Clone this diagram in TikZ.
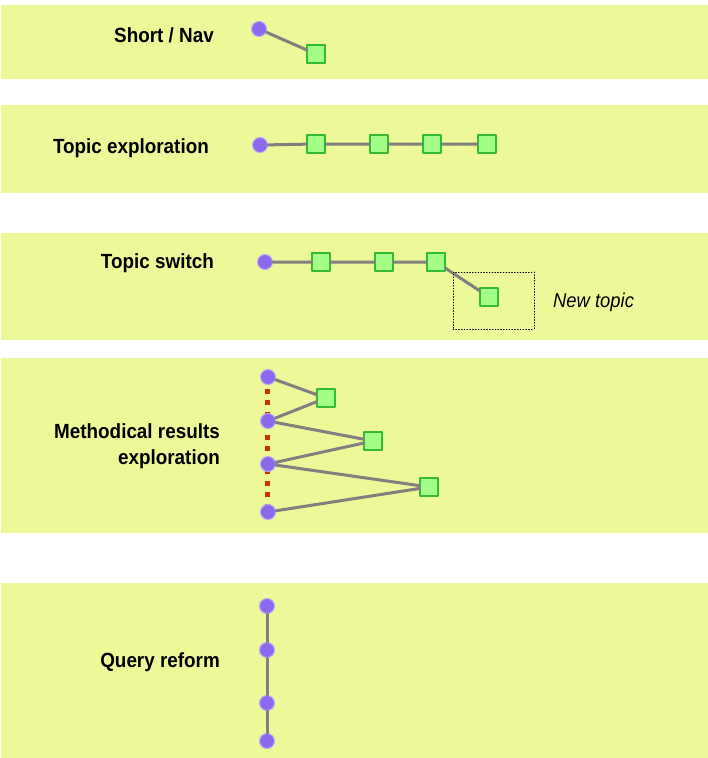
\documentclass[tikz,border=0pt]{standalone}
\usepackage{fontspec}
\newfontfamily\labfont{Liberation Sans}[FakeStretch=0.92]
\definecolor{band}{RGB}{237,248,153}
\definecolor{qfill}{RGB}{141,104,240}
\definecolor{qline}{RGB}{185,170,245}
\definecolor{dfill}{RGB}{164,255,136}
\definecolor{dline}{RGB}{51,187,51}
\definecolor{trail}{RGB}{204,51,0}
\tikzset{
	query/.style={circle, fill=qfill, draw=qline, line width=1pt, inner sep=0pt, minimum size=15pt},
	doc/.style={rectangle, fill=dfill, draw=dline, line width=1.3pt, inner sep=0pt, minimum size=18pt},
	hop/.style={draw=gray, line width=3pt},
	lab/.style={inner sep=0pt, align=right, font=\labfont\bfseries\fontsize{20.5}{26}\selectfont},
}
\begin{document}
\begin{tikzpicture}[x=1pt, y=-1pt, line join=round, line cap=round]
	\useasboundingbox (0,0) rectangle (708,758);
	\foreach \t/\b in {5/79, 105/193, 233/340, 358/533, 583/758}
		\fill[band] (1,\t) rectangle (708,\b);
	% Short / Nav
	\node[lab, anchor=base east] (lshort) at (214,42) {Short / Nav};
	\node[query] (a0) at (259,29) {};
	\node[doc] (a1) at (316,54) {};
	\draw[hop] (a0) -- (a1);
	% Topic exploration
	\node[lab, anchor=base east] (lexpl) at (209,153) {Topic exploration};
	\node[query] (b0) at (260,145) {};
	\foreach \x [count=\i] in {316,379,432,487} \node[doc] (b\i) at (\x,144) {};
	\draw[hop] (b0) -- (b1) -- (b2) -- (b3) -- (b4);
	% Topic switch
	\node[lab, anchor=base east] (lswitch) at (214,268) {Topic switch};
	\node[query] (c0) at (265,262) {};
	\foreach \x [count=\i] in {321,384,436} \node[doc] (c\i) at (\x,262) {};
	\node[doc] (c4) at (489,297) {};
	\draw[hop] (c0) -- (c1) -- (c2) -- (c3) -- (c4);
	\node[draw, dotted, line width=0.8pt, inner sep=0pt, minimum width=81pt, minimum height=57pt] (newbox) at (493.5,300.5) {};
	\node[inner sep=0pt, anchor=base west, font=\labfont\itshape\fontsize{20}{24}\selectfont] (lnew) at (553,307) {New topic};
	% Methodical results exploration
	\node[lab, anchor=east] (lmeth) at (220,446) {Methodical results\\exploration};
	\coordinate (t0) at (267,377);
	\coordinate (t3) at (267,512);
	\draw[trail, line width=5pt, line cap=butt, dash pattern=on 5pt off 6.5pt] (t0) -- (t3);
	\foreach \y [count=\i from 0] in {377,421,464,512} \node[query] (d\i) at (268,\y) {};
	\node[doc] (e1) at (326,398) {};
	\node[doc] (e2) at (373,441) {};
	\node[doc] (e3) at (429,487) {};
	\draw[hop] (d0) -- (e1) -- (d1) -- (e2) -- (d2) -- (e3) -- (d3);
	% Query reform
	\node[lab, anchor=base east] (lquery) at (220,667) {Query reform};
	\foreach \y [count=\i from 0] in {606,650,703,741} \node[query] (f\i) at (267,\y) {};
	\draw[hop] (f0) -- (f1) -- (f2) -- (f3);
\end{tikzpicture}
\end{document}
